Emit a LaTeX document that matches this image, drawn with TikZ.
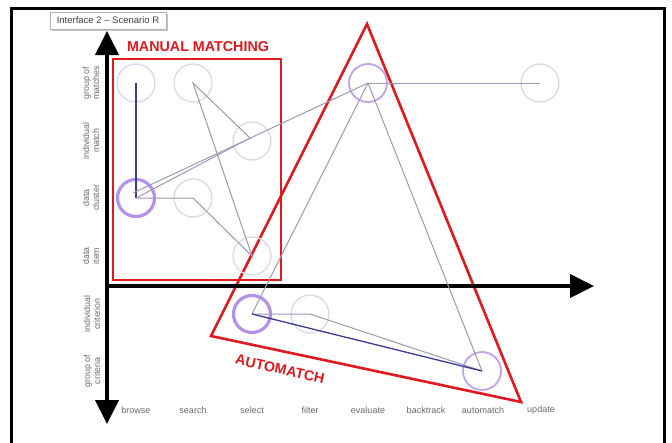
\documentclass[tikz,border=0pt]{standalone}
\usepackage{fontspec}
\setmainfont{Liberation Sans}
\usetikzlibrary{arrows.meta,calc}
\definecolor{lightcirc}{HTML}{D9D9EC}
\definecolor{purp}{HTML}{B592EA}
\definecolor{linegray}{HTML}{9A9AB6}
\definecolor{lineblue}{HTML}{3A3A98}
\definecolor{redc}{HTML}{E0191E}
\definecolor{labgray}{HTML}{6A6A6A}
\begin{document}
\begin{tikzpicture}[x=1pt,y=-1pt,
  lc/.style={draw=lightcirc,line width=1.3pt,circle,inner sep=0pt,minimum size=38pt},
  pthick/.style={draw=purp,line width=3.2pt,circle,inner sep=0pt,minimum size=37pt},
  pmed/.style={draw=purp!85,line width=1.8pt,circle,inner sep=0pt,minimum size=38pt},
  glink/.style={draw=linegray,line width=1pt},
  blink/.style={draw=lineblue,line width=1.3pt},
  redline/.style={draw=redc,line width=2.6pt},
  axis/.style={draw=black,line width=4pt,-{Triangle[width=23pt,length=24pt]}},
  rowlab/.style={rotate=90,align=center,text=labgray,font=\fontsize{8.8}{10}\selectfont,inner sep=0pt},
  collab/.style={text=labgray,font=\fontsize{9}{10}\selectfont,inner sep=0pt},
  bigred/.style={text=redc,font=\fontsize{14.3}{16}\selectfont\bfseries,inner sep=0pt}
]
\useasboundingbox (0,0) rectangle (672,442);
\fill[white] (0,0) rectangle (672,442);
% frame
\draw[line width=3pt] (11,446) -- (11,8) -- (664,8) -- (664,446);
% title box
\fill[gray!45] (52,14) rectangle (168,31);
\node[draw=gray!60,fill=white,line width=0.6pt,minimum width=116pt,minimum height=17pt,inner sep=0pt,
  text=black!75,font=\fontsize{9.5}{10}\selectfont] (title) at (108,20.5) {Interface 2 -- Scenario R};
% red manual matching box
\node[draw=redc,line width=2.6pt,minimum width=168pt,minimum height=221pt,inner sep=0pt] (mmbox) at (197,169.5) {};
\node[bigred] (mmlab) at (198,47) {MANUAL MATCHING};
% red automatch triangle
\coordinate (ta) at (367,24);
\coordinate (tb) at (521,402);
\coordinate (tc) at (211,336);
\draw[redline,line join=miter] (ta) -- (tb) -- (tc) -- cycle;
\node[bigred,rotate=-12.5] (amlab) at (280,369) {AUTOMATCH};
% axes
\coordinate (O) at (107,286);
\coordinate (ytop) at (107,31);
\coordinate (ybot) at (107,424);
\coordinate (xend) at (594,286);
\draw[axis] (O) -- (ytop);
\draw[axis] (O) -- (ybot);
\draw[axis] ($(O)+(-2,0)$) -- (xend);
% row labels
\node[rowlab] (r1) at (91,83) {group of\\matches};
\node[rowlab] (r2) at (91,141) {individual\\match};
\node[rowlab] (r3) at (91,198) {data\\cluster};
\node[rowlab] (r4) at (91,256) {data\\item};
\node[rowlab] (r5) at (92,314) {individual\\criterion};
\node[rowlab] (r6) at (92,371) {group of\\criteria};
% column labels
\node[collab] (c1) at (136,410) {browse};
\node[collab] (c2) at (193,410) {search};
\node[collab] (c3) at (252,410) {select};
\node[collab] (c4) at (310,410) {filter};
\node[collab] (c5) at (368,410) {evaluate};
\node[collab] (c6) at (426,410) {backtrack};
\node[collab] (c7) at (483,410) {automatch};
\node[collab] (c8) at (541,410) {update};
% circles
\node[lc] (bgm) at (136,83) {};
\node[lc] (sgm) at (193,83) {};
\node[lc] (sim) at (252,141) {};
\node[pthick] (bdc) at (136,198) {};
\node[lc] (sdc) at (193,198) {};
\node[lc] (sdi) at (252,256) {};
\node[pmed] (egm) at (368,83) {};
\node[lc] (ugm) at (540,83) {};
\node[pthick] (sic) at (252,314) {};
\node[lc] (fic) at (310,314) {};
\node[pmed] (agc) at (482,371) {};
% links
\draw[blink] (bgm.center) -- (bdc.center);
\draw[glink] (bdc.center) -- (sdc.center) -- (sdi.center) -- (sgm.center) -- ($(sim.center)+(-2,-3)$)
  -- ($(bdc.center)+(2,-1)$);
\draw[glink] ($(bdc.center)+(-3,-5)$) -- (egm.center);
\draw[glink] (egm.center) -- (ugm.center);
\draw[glink] (egm.center) -- (sic.center);
\draw[glink] (egm.center) -- (agc.center);
\draw[glink] (sic.center) -- (fic.center) -- (agc.center);
\draw[blink] (sic.center) -- (agc.center);
\end{tikzpicture}
\end{document}
